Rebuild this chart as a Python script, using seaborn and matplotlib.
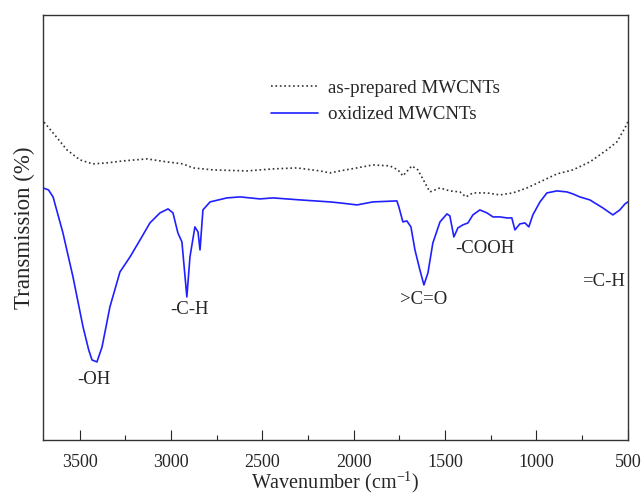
import matplotlib.pyplot as plt
import matplotlib.ticker as mticker
import pandas as pd
import seaborn as sns

# oxidized MWCNTs (blue solid)
ox_wn = [3700, 3670, 3645, 3591, 3536, 3481, 3450, 3432, 3405, 3377, 3334, 3279, 3224, 3169, 3115,
         3060, 3016, 2989, 2962, 2940, 2913, 2896, 2869, 2852, 2841, 2825, 2786, 2694,
         2622, 2513, 2442, 2294, 2130, 2075, 1982, 1895, 1764, 1753, 1731, 1709, 1687,
         1665, 1638, 1616, 1594, 1567, 1528, 1490, 1474, 1452, 1430, 1403, 1375, 1348,
         1310, 1271, 1238, 1200, 1162, 1135, 1118, 1091, 1063, 1042, 1020, 981, 943,
         888, 834, 801, 763, 708, 637, 582, 544, 516, 500]
ox_t = [252, 250, 243, 207, 163, 113, 90, 80, 78, 93, 133, 168, 183, 200, 217,
        227, 231, 227, 207, 198, 143, 183, 213, 208, 190, 230, 238, 242,
        243, 241, 242, 240, 238, 237, 235, 238, 239, 233, 218, 219, 213,
        190, 170, 155, 167, 197, 218, 226, 224, 203, 212, 215, 217, 225,
        230, 227, 223, 223, 222, 222, 210, 216, 217, 213, 225, 238, 247,
        249, 248, 246, 243, 240, 232, 225, 230, 236, 238]

# as-prepared MWCNTs (dotted)
ap_wn = [3700, 3645, 3569, 3498, 3427, 3350, 3262, 3131, 3022, 2934, 2880, 2770, 2584,
         2442, 2311, 2185, 2130, 2075, 1982, 1895, 1802, 1758, 1731, 1682, 1649, 1610,
         1583, 1528, 1474, 1419, 1386, 1348, 1271, 1200, 1129, 1052, 981, 888, 801,
         708, 615, 560, 516, 500]
ap_t = [319, 307, 290, 280, 276, 277, 279, 281, 278, 276, 272, 270, 269,
        271, 272, 269, 267, 269, 272, 275, 274, 270, 264, 274, 270, 257,
        248, 252, 249, 248, 243, 247, 247, 245, 247, 252, 258, 266, 270,
        278, 290, 298, 312, 318]

peak_labels = ['-OH', '-C-H', '>C=O', '-COOH', '=C-H']
peak_wn = [3421, 2896, 1620, 1282, 631]
peak_y = [60, 130, 140, 191, 158]

ox = pd.DataFrame({'wn': ox_wn, 't': ox_t})
ap = pd.DataFrame({'wn': ap_wn, 't': ap_t})

sns.set_style("white")
plt.rcParams['font.family'] = ['Liberation Serif', 'DejaVu Serif']
plt.rcParams['mathtext.fontset'] = 'stix'

fig = plt.figure(figsize=(6.42, 4.96), dpi=100)
ax = fig.add_axes([0.067, 0.113, 0.911, 0.857])

sns.lineplot(data=ap, x='wn', y='t', ax=ax, color='#333333', linestyle=':', linewidth=1.2,
             label='as-prepared MWCNTs')
sns.lineplot(data=ox, x='wn', y='t', ax=ax, color='#2020ff', linewidth=1.2,
             label='oxidized MWCNTs')

for lab, x, y in zip(peak_labels, peak_wn, peak_y):
    ax.text(x, y, lab, ha='center', va='center', fontsize=13.5)

ax.set_xlim(3700, 500)
ax.set_ylim(0, 425)
ax.xaxis.set_major_locator(mticker.MultipleLocator(500))
ax.xaxis.set_minor_locator(mticker.MultipleLocator(250))
ax.tick_params(axis='x', which='major', direction='in', length=7, width=0.8,
               labelsize=13, pad=10, bottom=True)
ax.tick_params(axis='x', which='minor', direction='in', length=3.5, width=0.8, bottom=True)
ax.set_yticks([])
for s in ax.spines.values():
    s.set_color('#333333')
    s.set_linewidth(1.0)

ax.set_xlabel('Wavenumber (cm$^{\\mathregular{-1}}$)', fontsize=14.5, labelpad=-1)
ax.set_ylabel('Transmission (%)', fontsize=16.5, labelpad=6)

ax.legend(loc='upper left', bbox_to_anchor=(0.36, 0.889), frameon=False, fontsize=13.7,
          handlelength=2.5, handletextpad=0.5, labelspacing=0.5)

fig.savefig('out.png', dpi=100)
